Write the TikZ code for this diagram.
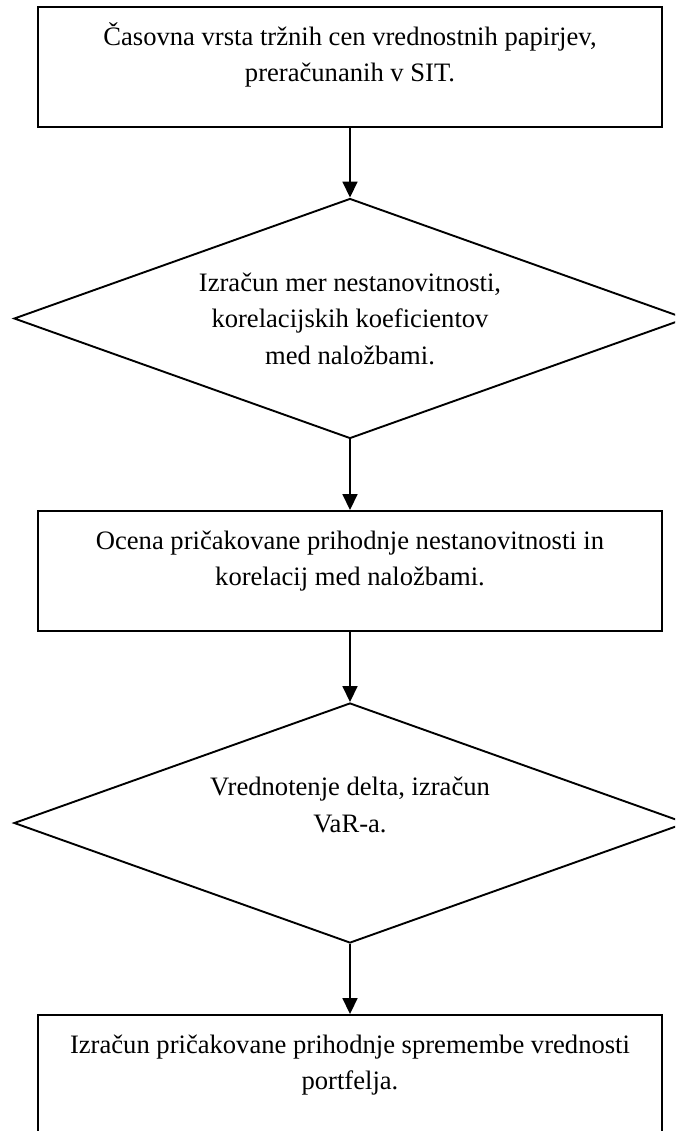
\documentclass[tikz,border=0pt]{standalone}
\usepackage{fontspec}
\setmainfont{Liberation Serif}
\usetikzlibrary{shapes.geometric,arrows.meta}
\newcommand{\boxtext}[1]{\parbox[c][95pt][t]{610pt}{\centering\strut #1}}
\begin{document}
\begin{tikzpicture}[x=1pt,y=-1pt,font=\fontsize{26.6}{36.5}\selectfont]
      \useasboundingbox (0,0) rectangle (675,1131);
      \clip (0,0) rectangle (675,1131);
      \begin{scope}[every node/.style={draw,line width=1.9pt,inner sep=0pt}]
      \node[rectangle,minimum width=624pt,minimum height=120pt] (a) at (350,67)
        {\boxtext{Časovna vrsta tržnih cen vrednostnih papirjev,\\ preračunanih v SIT.}};
      \node[diamond,aspect=2.8,minimum width=672pt,minimum height=240pt,align=center] (b) at (350,318.5)
        {Izračun mer nestanovitnosti,\\ korelacijskih koeficientov\\ med naložbami.};
      \node[rectangle,minimum width=624pt,minimum height=120pt] (c) at (350,571)
        {\boxtext{Ocena pričakovane prihodnje nestanovitnosti in\\ korelacij med naložbami.}};
      \node[diamond,aspect=2.8,minimum width=672pt,minimum height=240pt,align=center] (d) at (350,823)
        {Vrednotenje delta, izračun\\ VaR-a.\\ \mbox{}};
      \node[rectangle,minimum width=624pt,minimum height=120pt] (e) at (350,1075)
        {\boxtext{Izračun pričakovane prihodnje spremembe vrednosti\\ portfelja.}};
      \end{scope}
      \begin{scope}[every edge/.style={draw=black,line width=1.7pt,-{Triangle[length=16pt,width=15pt]}}]
      \path (a) edge (b);
      \path (b) edge (c);
      \path (c) edge (d);
      \path (d) edge (e);
      \end{scope}
\end{tikzpicture}
\end{document}
